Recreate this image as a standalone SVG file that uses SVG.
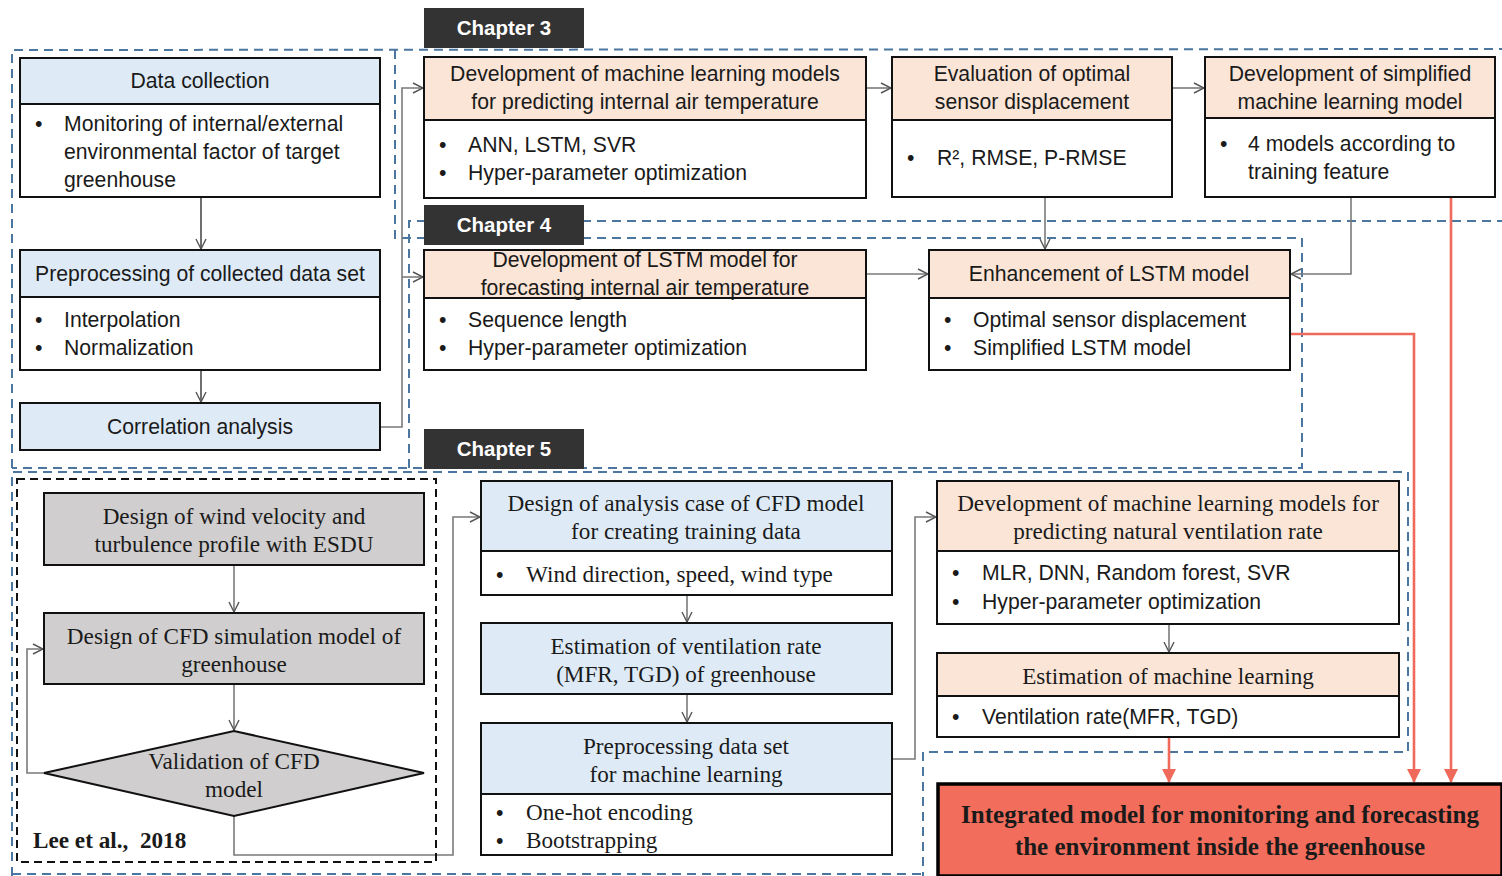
<svg xmlns="http://www.w3.org/2000/svg" width="1502" height="876" viewBox="0 0 1502 876">
  <style>
    .sans { font-family: "Liberation Sans", Arial, sans-serif; font-size: 21.2px; fill: #1a1a1a; }
    .serif { font-family: "Liberation Serif", "Times New Roman", serif; font-size: 23.2px; fill: #1a1a1a; }
    .mid { text-anchor: middle; }
    .chap { font-family: "Liberation Sans", Arial, sans-serif; font-size: 20.5px; font-weight: bold; fill: #ffffff; text-anchor: middle; }
    .box { stroke: #111; stroke-width: 2; }
    .blue { fill: #DEEBF7; }
    .peach { fill: #FBE5D6; }
    .grey { fill: #D0CECE; }
    .white { fill: #ffffff; }
    .region { fill: none; stroke: #4A76A0; stroke-width: 2; stroke-dasharray: 9 6; }
    .link { fill: none; stroke: #7a7a7a; stroke-width: 1.6; marker-end: url(#open); }
    .linkb { fill: none; stroke: #222; stroke-width: 1.3; marker-end: url(#open); }
    .red { fill: none; stroke: #EF6A5A; stroke-width: 2.6; marker-end: url(#solid); }
  </style>
  <defs>
    <marker id="open" viewBox="0 0 12 12" refX="11" refY="6" markerWidth="12" markerHeight="12" markerUnits="userSpaceOnUse" orient="auto">
      <path d="M1,1 L11,6 L1,11" fill="none" stroke="#555" stroke-width="1.4"/>
    </marker>
    <marker id="solid" viewBox="0 0 14 14" refX="13" refY="7" markerWidth="14" markerHeight="14" markerUnits="userSpaceOnUse" orient="auto">
      <path d="M0,0 L14,7 L0,14 Z" fill="#EF6A5A"/>
    </marker>
  </defs>

  <rect width="1502" height="876" fill="#ffffff"/>

  <!-- chapter regions -->
  <g id="regions">
    <polyline class="region" points="12,468 12,50 1504,49"/>
    <polyline class="region" points="395,50 395,238 1302,238 1302,468 12,468"/>
    <polyline class="region" points="409,468 409,221 1504,221"/>
    <polyline class="region" points="12,876 12,472 1408,472 1408,752 923,752 923,876"/>
    <line class="region" x1="12" y1="874" x2="923" y2="874"/>
  </g>

  <!-- chapter labels -->
  <g id="chapter3"><rect x="424" y="8" width="160" height="40" fill="#333333"/><text class="chap" x="504" y="35">Chapter 3</text></g>
  <g id="chapter4"><rect x="424" y="205" width="160" height="40" fill="#333333"/><text class="chap" x="504" y="232">Chapter 4</text></g>
  <g id="chapter5"><rect x="424" y="429" width="160" height="40" fill="#333333"/><text class="chap" x="504" y="456">Chapter 5</text></g>

  <!-- connectors -->
  <g id="connectors">
    <path class="linkb" d="M201,197 V249"/>
    <path class="linkb" d="M201,370 V402"/>
    <path class="link" d="M380,427 H402 V88 H423"/>
    <path class="link" d="M402,277 H423"/>
    <path class="link" d="M866,88 H891"/>
    <path class="link" d="M1172,88 H1204"/>
    <path class="link" d="M1045,197 V249"/>
    <path class="link" d="M1351,197 V274 H1291"/>
    <path class="link" d="M866,274 H928"/>
    <path class="link" d="M234,565 V612"/>
    <path class="link" d="M234,684 V730"/>
    <path class="link" d="M44,773 H27 V649 H43"/>
    <path class="link" d="M234,816 V855 H453 V517 H480"/>
    <path class="link" d="M687,595 V622"/>
    <path class="link" d="M687,694 V722"/>
    <path class="link" d="M892,759 H915 V517 H936"/>
    <path class="link" d="M1169,624 V652"/>
    <path class="red" d="M1169,737 V782"/>
    <path class="red" d="M1290,334 H1414 V782"/>
    <path class="red" d="M1451,197 V782"/>
  </g>

  <!-- left column -->
  <g id="data-collection">
    <rect class="box blue" x="20" y="58" width="360" height="46"/>
    <rect class="box white" x="20" y="104" width="360" height="93"/>
    <text class="sans mid" x="200" y="88">Data collection</text>
    <text class="sans" x="35" y="131">•</text>
    <text class="sans" x="64" y="131">Monitoring of internal/external</text>
    <text class="sans" x="64" y="159">environmental factor of target</text>
    <text class="sans" x="64" y="187">greenhouse</text>
  </g>
  <g id="preprocessing">
    <rect class="box blue" x="20" y="250" width="360" height="47"/>
    <rect class="box white" x="20" y="297" width="360" height="73"/>
    <text class="sans mid" x="200" y="281">Preprocessing of collected data set</text>
    <text class="sans" x="35" y="327">•</text>
    <text class="sans" x="64" y="327">Interpolation</text>
    <text class="sans" x="35" y="355">•</text>
    <text class="sans" x="64" y="355">Normalization</text>
  </g>
  <g id="correlation">
    <rect class="box blue" x="20" y="403" width="360" height="47"/>
    <text class="sans mid" x="200" y="434">Correlation analysis</text>
  </g>

  <!-- chapter 3 -->
  <g id="ml-temperature">
    <rect class="box peach" x="424" y="57" width="442" height="63"/>
    <rect class="box white" x="424" y="120" width="442" height="78"/>
    <text class="sans mid" x="645" y="81">Development of machine learning models</text>
    <text class="sans mid" x="645" y="109">for predicting internal air temperature</text>
    <text class="sans" x="439" y="152">•</text>
    <text class="sans" x="468" y="152">ANN, LSTM, SVR</text>
    <text class="sans" x="439" y="180">•</text>
    <text class="sans" x="468" y="180">Hyper-parameter optimization</text>
  </g>
  <g id="sensor-evaluation">
    <rect class="box peach" x="892" y="57" width="280" height="63"/>
    <rect class="box white" x="892" y="120" width="280" height="77"/>
    <text class="sans mid" x="1032" y="81">Evaluation of optimal</text>
    <text class="sans mid" x="1032" y="109">sensor displacement</text>
    <text class="sans" x="907" y="165">•</text>
    <text class="sans" x="937" y="165">R², RMSE, P-RMSE</text>
  </g>
  <g id="simplified-model">
    <rect class="box peach" x="1205" y="57" width="290" height="61"/>
    <rect class="box white" x="1205" y="118" width="290" height="79"/>
    <text class="sans mid" x="1350" y="81">Development of simplified</text>
    <text class="sans mid" x="1350" y="109">machine learning model</text>
    <text class="sans" x="1220" y="151">•</text>
    <text class="sans" x="1248" y="151">4 models according to</text>
    <text class="sans" x="1248" y="179">training feature</text>
  </g>

  <!-- chapter 4 -->
  <g id="lstm-forecast">
    <rect class="box peach" x="424" y="250" width="442" height="48"/>
    <rect class="box white" x="424" y="298" width="442" height="72"/>
    <text class="sans mid" x="645" y="267">Development of LSTM model for</text>
    <text class="sans mid" x="645" y="295">forecasting internal air temperature</text>
    <text class="sans" x="439" y="327">•</text>
    <text class="sans" x="468" y="327">Sequence length</text>
    <text class="sans" x="439" y="355">•</text>
    <text class="sans" x="468" y="355">Hyper-parameter optimization</text>
  </g>
  <g id="lstm-enhancement">
    <rect class="box peach" x="929" y="250" width="361" height="48"/>
    <rect class="box white" x="929" y="298" width="361" height="72"/>
    <text class="sans mid" x="1109" y="281">Enhancement of LSTM model</text>
    <text class="sans" x="944" y="327">•</text>
    <text class="sans" x="973" y="327">Optimal sensor displacement</text>
    <text class="sans" x="944" y="355">•</text>
    <text class="sans" x="973" y="355">Simplified LSTM model</text>
  </g>

  <!-- chapter 5: CFD model (Lee et al., 2018) -->
  <g id="lee-2018">
    <rect x="17" y="479" width="419" height="383" fill="none" stroke="#111" stroke-width="2" stroke-dasharray="8 5"/>
    <text class="serif" x="33" y="848" style="font-weight:bold" xml:space="preserve">Lee et al.,  2018</text>
  </g>
  <g id="wind-profile">
    <rect class="box grey" x="44" y="493" width="380" height="72"/>
    <text class="serif mid" x="234" y="524">Design of wind velocity and</text>
    <text class="serif mid" x="234" y="552">turbulence profile with ESDU</text>
  </g>
  <g id="cfd-model">
    <rect class="box grey" x="44" y="613" width="380" height="71"/>
    <text class="serif mid" x="234" y="644">Design of CFD simulation model of</text>
    <text class="serif mid" x="234" y="672">greenhouse</text>
  </g>
  <g id="cfd-validation">
    <polygon class="box grey" points="234,731 424,773 234,816 44,773"/>
    <text class="serif mid" x="234" y="769">Validation of CFD</text>
    <text class="serif mid" x="234" y="797">model</text>
  </g>

  <g id="analysis-case">
    <rect class="box blue" x="481" y="481" width="411" height="70"/>
    <rect class="box white" x="481" y="551" width="411" height="44"/>
    <text class="serif mid" x="686" y="511">Design of analysis case of CFD model</text>
    <text class="serif mid" x="686" y="539">for creating training data</text>
    <text class="sans" x="496" y="582">•</text>
    <text class="serif" x="526" y="582">Wind direction, speed, wind type</text>
  </g>
  <g id="ventilation-estimate">
    <rect class="box blue" x="481" y="623" width="411" height="71"/>
    <text class="serif mid" x="686" y="654">Estimation of ventilation rate</text>
    <text class="serif mid" x="686" y="682">(MFR, TGD) of greenhouse</text>
  </g>
  <g id="ml-preprocessing">
    <rect class="box blue" x="481" y="723" width="411" height="71"/>
    <rect class="box white" x="481" y="794" width="411" height="61"/>
    <text class="serif mid" x="686" y="754">Preprocessing data set</text>
    <text class="serif mid" x="686" y="782">for machine learning</text>
    <text class="sans" x="496" y="820">•</text>
    <text class="serif" x="526" y="820">One-hot encoding</text>
    <text class="sans" x="496" y="848">•</text>
    <text class="serif" x="526" y="848">Bootstrapping</text>
  </g>

  <g id="ml-ventilation">
    <rect class="box peach" x="937" y="481" width="462" height="70"/>
    <rect class="box white" x="937" y="551" width="462" height="73"/>
    <text class="serif mid" x="1168" y="511">Development of machine learning models for</text>
    <text class="serif mid" x="1168" y="539">predicting natural ventilation rate</text>
    <text class="sans" x="952" y="580">•</text>
    <text class="sans" x="982" y="580">MLR, DNN, Random forest, SVR</text>
    <text class="sans" x="952" y="609">•</text>
    <text class="sans" x="982" y="609">Hyper-parameter optimization</text>
  </g>
  <g id="ml-estimation">
    <rect class="box peach" x="937" y="653" width="462" height="43"/>
    <rect class="box white" x="937" y="696" width="462" height="41"/>
    <text class="serif mid" x="1168" y="684">Estimation of machine learning</text>
    <text class="sans" x="952" y="724">•</text>
    <text class="sans" x="982" y="724">Ventilation rate(MFR, TGD)</text>
  </g>

  <!-- integrated model -->
  <g id="integrated-model">
    <rect x="938" y="784" width="564" height="92" fill="#F26D5B" stroke="#000" stroke-width="3.5"/>
    <text class="serif mid" x="1220" y="823" style="font-weight:bold;font-size:25px">Integrated model for monitoring and forecasting</text>
    <text class="serif mid" x="1220" y="855" style="font-weight:bold;font-size:25px">the environment inside the greenhouse</text>
  </g>
</svg>
